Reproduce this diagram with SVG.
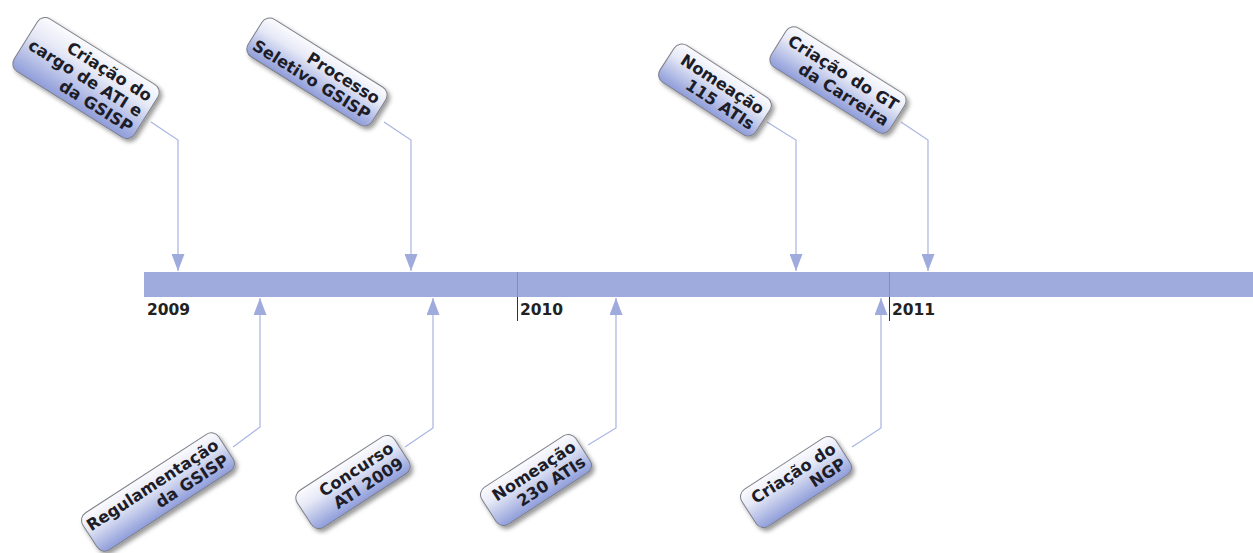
<svg xmlns="http://www.w3.org/2000/svg" width="1253" height="553" viewBox="0 0 1253 553">
<style>
.box{fill:url(#bg);stroke:#7d7f88;stroke-width:1}
.lbl{font-family:"DejaVu Sans",Verdana,sans-serif;font-weight:bold;font-size:16.3px;fill:#1c1d28;text-anchor:end}
.yr{font-family:"DejaVu Sans",Verdana,sans-serif;font-weight:bold;font-size:15.5px;fill:#222}
.con{fill:none;stroke:#a9b4e2;stroke-width:1.2;marker-end:url(#ah)}
.tick{stroke:#333;stroke-width:1}
.tickin{stroke:#7f8cc0;stroke-width:1}
</style>
<defs>
<linearGradient id="bg" x1="0" y1="0" x2="0" y2="1">
<stop offset="0" stop-color="#fbfbfe"/>
<stop offset="0.35" stop-color="#e6e9f6"/>
<stop offset="1" stop-color="#8f9dda"/>
</linearGradient>
<filter id="sh" x="-20%" y="-20%" width="150%" height="150%">
<feDropShadow dx="2.5" dy="3" stdDeviation="2.2" flood-color="#000" flood-opacity="0.4"/>
</filter>
<marker id="ah" markerUnits="userSpaceOnUse" markerWidth="17" markerHeight="13" refX="17" refY="6.5" orient="auto">
<path d="M0,0 L17,6.5 L0,13 Z" fill="#9eabdc"/>
</marker>
</defs>
<rect width="1253" height="553" fill="#fff"/>
<g id="timeline">
<rect x="144" y="272" width="1109" height="25" fill="#9eabdc"/>
<line class="tickin" x1="517.5" y1="272" x2="517.5" y2="297"/>
<line class="tickin" x1="889.5" y1="272" x2="889.5" y2="297"/>
<line class="tick" x1="517.5" y1="297" x2="517.5" y2="321"/>
<line class="tick" x1="889.5" y1="297" x2="889.5" y2="321"/>
<text class="yr" x="147" y="315">2009</text>
<text class="yr" x="520" y="315">2010</text>
<text class="yr" x="892" y="315">2011</text>
</g>
<g id="connectors">
<polyline class="con" points="151,122 178,140 178,271"/>
<polyline class="con" points="384,122 411,140 411,271"/>
<polyline class="con" points="767,122 796,140 796,271"/>
<polyline class="con" points="901,122 928,140 928,271"/>
<polyline class="con" points="233,447 260,427 260,298"/>
<polyline class="con" points="405,447 433,428 433,298"/>
<polyline class="con" points="588,445 616,428 616,298"/>
<polyline class="con" points="852,447 881,428 881,298"/>
</g>
<g id="n1">
<g filter="url(#sh)"><rect class="box" x="-71" y="-31" width="142" height="62" rx="9" transform="translate(86 78) rotate(32)"/></g>
<text class="lbl" transform="translate(86 78) rotate(32)"><tspan x="65" y="-12.2">Criação do</tspan><tspan x="65" y="6">cargo de ATI e</tspan><tspan x="65" y="24.2">da GSISP</tspan></text>
</g>
<g id="n2">
<g filter="url(#sh)"><rect class="box" x="-73" y="-22" width="146" height="44" rx="9" transform="translate(317 72) rotate(32)"/></g>
<text class="lbl" transform="translate(317 72) rotate(32)"><tspan x="67" y="-3.2">Processo</tspan><tspan x="67" y="15">Seletivo GSISP</tspan></text>
</g>
<g id="n3">
<g filter="url(#sh)"><rect class="box" x="-57" y="-22" width="114" height="44" rx="9" transform="translate(715 90) rotate(33)"/></g>
<text class="lbl" transform="translate(715 90) rotate(33)"><tspan x="51" y="-3.2">Nomeação</tspan><tspan x="51" y="15">115 ATIs</tspan></text>
</g>
<g id="n4">
<g filter="url(#sh)"><rect class="box" x="-70" y="-23" width="140" height="46" rx="9" transform="translate(838 80) rotate(32)"/></g>
<text class="lbl" transform="translate(838 80) rotate(32)"><tspan x="64" y="-3.2">Criação do GT</tspan><tspan x="64" y="15">da Carreira</tspan></text>
</g>
<g id="n5">
<g filter="url(#sh)"><rect class="box" x="-81" y="-22" width="162" height="44" rx="9" transform="translate(158 492) rotate(-33)"/></g>
<text class="lbl" transform="translate(158 492) rotate(-33)"><tspan x="76" y="-3.2">Regulamentação</tspan><tspan x="76" y="15">da GSISP</tspan></text>
</g>
<g id="n6">
<g filter="url(#sh)"><rect class="box" x="-58" y="-22" width="116" height="44" rx="9" transform="translate(353 482) rotate(-33)"/></g>
<text class="lbl" transform="translate(353 482) rotate(-33)"><tspan x="52" y="-3.2">Concurso</tspan><tspan x="52" y="15">ATI 2009</tspan></text>
</g>
<g id="n7">
<g filter="url(#sh)"><rect class="box" x="-56" y="-22" width="112" height="44" rx="9" transform="translate(536 480) rotate(-33)"/></g>
<text class="lbl" transform="translate(536 480) rotate(-33)"><tspan x="51" y="-3.2">Nomeação</tspan><tspan x="51" y="15">230 ATIs</tspan></text>
</g>
<g id="n8">
<g filter="url(#sh)"><rect class="box" x="-56" y="-22" width="112" height="44" rx="9" transform="translate(796 482) rotate(-33)"/></g>
<text class="lbl" transform="translate(796 482) rotate(-33)"><tspan x="51" y="-3.2">Criação do</tspan><tspan x="51" y="15">NGP</tspan></text>
</g>
</svg>
